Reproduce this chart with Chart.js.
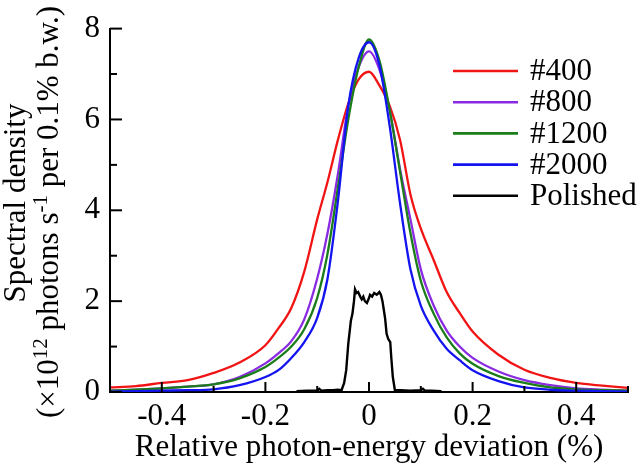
<!DOCTYPE html>
<html>
<head>
<meta charset="utf-8">
<script src="https://cdn.jsdelivr.net/npm/chart.js@4/dist/chart.umd.min.js"></script>
<style>
  html, body { margin: 0; padding: 0; background: #fff; }
  #wrap { width: 640px; height: 466px; position: relative; }
</style>
</head>
<body>
<div id="wrap"><canvas id="c" width="640" height="466"></canvas></div>
<script>
// ---- data ----
const xGrid = [-0.5, -0.45, -0.4, -0.35, -0.3, -0.25, -0.2, -0.175, -0.15, -0.125, -0.1, -0.08, -0.06, -0.04, -0.02, 0,
               0.02, 0.04, 0.06, 0.08, 0.1, 0.125, 0.15, 0.175, 0.2, 0.25, 0.3, 0.35, 0.4, 0.45, 0.5];
const s400  = [0.10, 0.13, 0.20, 0.26, 0.42, 0.65, 1.03, 1.40, 1.85, 2.65, 3.80, 4.63, 5.55, 6.35, 6.88, 7.05,
               6.75, 6.30, 5.55, 4.35, 3.60, 2.90, 2.20, 1.74, 1.33, 0.82, 0.49, 0.31, 0.20, 0.14, 0.09];
const s800  = [0.03, 0.05, 0.08, 0.12, 0.17, 0.33, 0.63, 0.85, 1.12, 1.60, 2.50, 3.50, 4.80, 6.30, 7.15, 7.50,
               7.10, 6.20, 4.90, 3.80, 2.70, 1.90, 1.35, 1.00, 0.75, 0.45, 0.26, 0.15, 0.08, 0.05, 0.03];
const s1200 = [0.03, 0.05, 0.08, 0.12, 0.17, 0.30, 0.55, 0.75, 1.00, 1.38, 2.07, 3.05, 4.50, 6.00, 7.15, 7.76,
               7.30, 6.20, 4.85, 3.50, 2.45, 1.72, 1.20, 0.85, 0.62, 0.35, 0.20, 0.10, 0.06, 0.04, 0.03];
const s2000 = [0.01, 0.02, 0.03, 0.04, 0.06, 0.15, 0.33, 0.48, 0.75, 1.10, 1.63, 2.50, 4.20, 6.30, 7.35, 7.70,
               7.20, 5.85, 4.15, 2.70, 1.90, 1.35, 0.95, 0.70, 0.48, 0.24, 0.10, 0.05, 0.03, 0.02, 0.01];
const polishedX = [-0.14, -0.12, -0.1, -0.096, -0.092, -0.08, -0.07, -0.06, -0.053, -0.048, -0.044, -0.04, -0.035,
                   -0.032, -0.029, -0.027, -0.024, -0.021, -0.017, -0.014, -0.011, -0.008, -0.004, -0.001, 0.002,
                   0.006, 0.01, 0.015, 0.02, 0.023, 0.026, 0.031, 0.034, 0.037, 0.041, 0.043, 0.046, 0.05,
                   0.06, 0.08, 0.1, 0.104, 0.108, 0.12, 0.14];
const polishedY = [0.02, 0.03, 0.03, 0.07, 0.03, 0.04, 0.04, 0.05, 0.04, 0.20, 0.48, 1.06, 1.57,
                   1.72, 2.00, 2.26, 2.18, 2.20, 2.10, 2.04, 2.10, 2.00, 1.96, 2.04, 2.14,
                   2.10, 2.18, 2.14, 2.20, 2.14, 2.00, 1.63, 1.28, 1.17, 1.10, 0.76, 0.33, 0.04,
                   0.04, 0.03, 0.04, 0.07, 0.03, 0.03, 0.02];
const seriesLabels = ['#400', '#800', '#1200', '#2000', 'Polished'];
const seriesColors = ['#f01414', '#8a2be2', '#1a7d1a', '#1414f0', '#000000'];
const xTitle = 'Relative photon-energy deviation (%)';
const yTitle1 = 'Spectral density';

const FONT = '"Liberation Serif", "Times New Roman", serif';

function pts(xs, ys) { return xs.map((x, i) => ({ x: x, y: ys[i] })); }
function xLabel(v) {
  const k = Math.round(v * 10);
  if (k % 2 !== 0 || Math.abs(k) === 5) return '';
  return k === 0 ? '0' : (k / 10).toFixed(1);
}

const datasets = [
  { label: seriesLabels[0], data: pts(xGrid, s400),  borderColor: seriesColors[0], order: 4, cubicInterpolationMode: 'monotone' },
  { label: seriesLabels[1], data: pts(xGrid, s800),  borderColor: seriesColors[1], order: 3, cubicInterpolationMode: 'monotone' },
  { label: seriesLabels[2], data: pts(xGrid, s1200), borderColor: seriesColors[2], order: 2, cubicInterpolationMode: 'monotone' },
  { label: seriesLabels[3], data: pts(xGrid, s2000), borderColor: seriesColors[3], order: 1, cubicInterpolationMode: 'monotone' },
  { label: seriesLabels[4], data: pts(polishedX, polishedY), borderColor: seriesColors[4], order: 0, tension: 0, borderWidth: 2.4 }
].map(d => Object.assign({ borderWidth: 2.3, pointRadius: 0, fill: false }, d));

const decor = {
  id: 'decor',
  afterDraw(chart) {
    const ctx = chart.ctx;
    const xs = chart.scales.x, ys = chart.scales.y;
    const area = chart.chartArea;
    ctx.save();
    ctx.strokeStyle = '#000';
    ctx.lineWidth = 2;
    ctx.fillStyle = '#000';
    ctx.font = '31px ' + FONT;
    // tick marks (inside) and x tick labels
    ctx.textAlign = 'center';
    ctx.textBaseline = 'alphabetic';
    xs.ticks.forEach(t => {
      const px = xs.getPixelForValue(t.value);
      const major = Math.round(t.value * 10) % 2 === 0;
      const len = major ? 10 : 6;
      ctx.beginPath(); ctx.moveTo(px, area.bottom); ctx.lineTo(px, area.bottom - len); ctx.stroke();
      const lab = xLabel(t.value);
      if (lab) ctx.fillText(lab, px, 424.5);
    });
    ys.ticks.forEach(t => {
      const py = ys.getPixelForValue(t.value);
      const major = Math.round(t.value) % 2 === 0;
      const len = major ? 12 : 7;
      ctx.beginPath(); ctx.moveTo(area.left, py); ctx.lineTo(area.left + len, py); ctx.stroke();
    });
    // x title
    ctx.fillText(xTitle, (area.left + area.right) / 2, 456);
    // y title (rotated, with superscripts)
    ctx.save();
    ctx.rotate(-Math.PI / 2);
    ctx.textBaseline = 'middle';
    ctx.textAlign = 'center';
    ctx.fillText(yTitle1, -203, 17);
    const parts = [
      ['(\u00d710', false], ['12', true], [' photons s', false], ['-1', true], [' per 0.1% b.w.)', false]
    ];
    const big = '31px ' + FONT, small = '21px ' + FONT;
    let total = 0;
    parts.forEach(p => { ctx.font = p[1] ? small : big; total += ctx.measureText(p[0]).width; });
    let cx = -212 - total / 2;
    ctx.textAlign = 'left';
    parts.forEach(p => {
      ctx.font = p[1] ? small : big;
      ctx.fillText(p[0], cx, p[1] ? 41 : 50);
      cx += ctx.measureText(p[0]).width;
    });
    ctx.restore();
    // legend
    ctx.font = '31px ' + FONT;
    ctx.textAlign = 'left';
    ctx.textBaseline = 'middle';
    chart.data.datasets.forEach((d, i) => {
      const y = 71 + i * 31.2;
      ctx.strokeStyle = d.borderColor;
      ctx.lineWidth = 2.6;
      ctx.beginPath(); ctx.moveTo(453, y); ctx.lineTo(518, y); ctx.stroke();
      ctx.fillStyle = '#000';
      ctx.fillText(d.label, 530, y + 1);
    });
    ctx.restore();
  }
};

new Chart(document.getElementById('c'), {
  type: 'line',
  data: { datasets: datasets },
  options: {
    responsive: false,
    animation: false,
    devicePixelRatio: 1,
    layout: { padding: { top: 23, right: 12, left: 0, bottom: 0 } },
    plugins: { legend: { display: false }, tooltip: { enabled: false } },
    scales: {
      x: {
        type: 'linear', min: -0.5, max: 0.5,
        grid: { display: false, drawTicks: false },
        border: { display: true, color: '#000', width: 2 },
        ticks: {
          display: false, stepSize: 0.1, autoSkip: false, maxRotation: 0,
          font: { family: FONT, size: 31 },
          callback: v => xLabel(v)
        },
        afterFit: s => { s.height = 74; }
      },
      y: {
        type: 'linear', min: 0, max: 8,
        grid: { display: false, drawTicks: false },
        border: { display: true, color: '#000', width: 2 },
        ticks: {
          stepSize: 1, autoSkip: false, padding: 10, color: '#000',
          font: { family: FONT, size: 31 },
          callback: v => (Math.round(v) % 2 === 0 ? String(Math.round(v)) : '')
        },
        afterFit: s => { s.width = 110; }
      }
    }
  },
  plugins: [decor]
});
</script>
</body>
</html>
